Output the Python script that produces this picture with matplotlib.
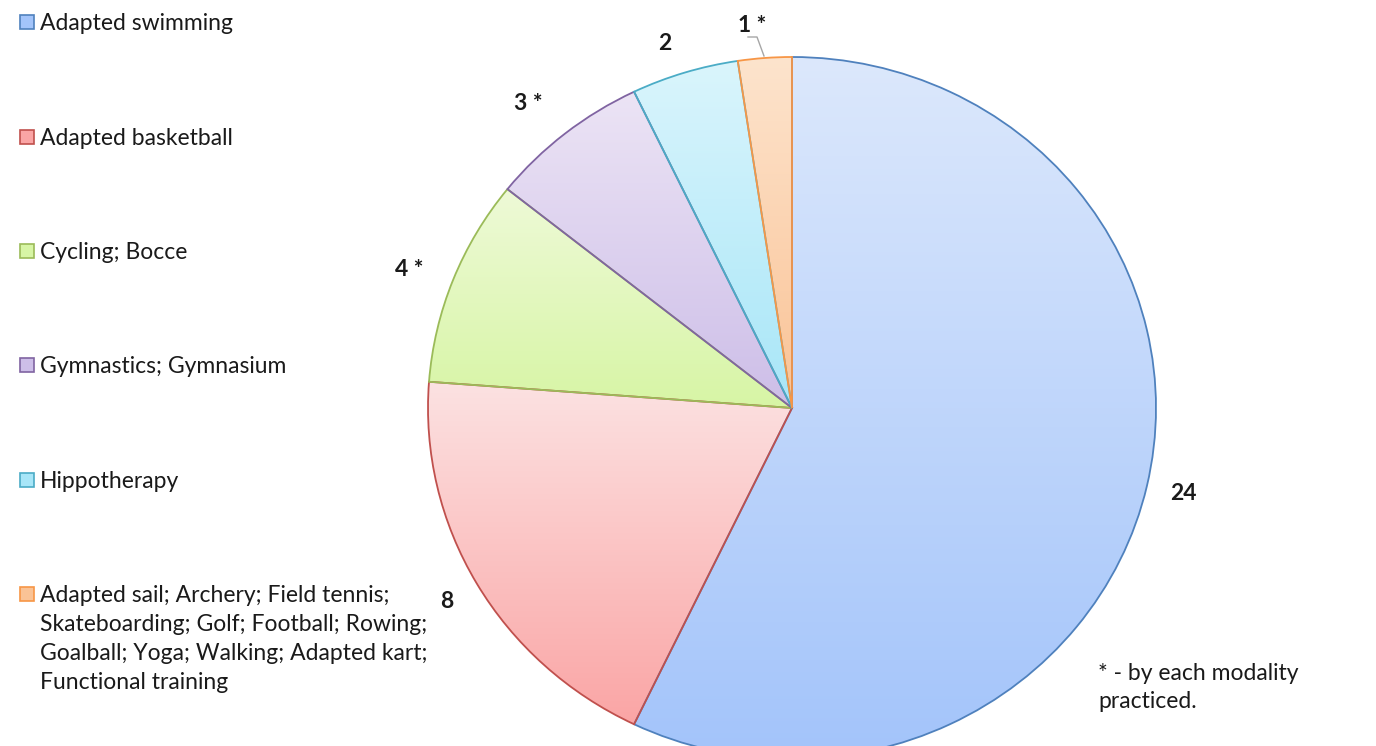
import numpy as np
import matplotlib.pyplot as plt
from matplotlib.patches import Rectangle
from matplotlib.lines import Line2D
from matplotlib.colors import LinearSegmentedColormap

plt.rcParams['font.family'] = ['Lato', 'DejaVu Sans']

categories = ['Adapted swimming', 'Adapted basketball', 'Cycling; Bocce',
              'Gymnastics; Gymnasium', 'Hippotherapy',
              'Adapted sail; Archery; Field tennis;\nSkateboarding; Golf; Football; Rowing;\n'
              'Goalball; Yoga; Walking; Adapted kart;\nFunctional training']
values = [24, 8, 4, 3, 2, 1]
value_labels = ['24', '8', '4 *', '3 *', '2', '1 *']

# gradient top / bottom and edge colour per slice
tops = ['#dce8fc', '#fce2e2', '#eefad7', '#ece4f5', '#daf5fc', '#fde4cd']
bottoms = ['#a3c4fa', '#faa5a5', '#d7f5a5', '#cdbee8', '#a8e6f8', '#fac396']
edges = ['#4f81bd', '#c0504d', '#9bbb59', '#8064a2', '#4bacc6', '#f79646']

W, H = 1376, 746
fig = plt.figure(figsize=(W / 100, H / 100), dpi=100)

# pie centre (792, 408) px, radii 364 x 351 px
cx, cy, rx, ry = 792, 408, 364, 351
ax = fig.add_axes([(cx - rx) / W, (H - cy - ry) / H, 2 * rx / W, 2 * ry / H])
wedges, _ = ax.pie(values, startangle=90, counterclock=False, radius=1,
                   wedgeprops=dict(linewidth=1.3))
grad = np.linspace(0, 1, 256).reshape(-1, 1)
for w, t, b, e in zip(wedges, tops, bottoms, edges):
    w.set_facecolor('none')
    w.set_edgecolor(e)
    w.set_zorder(3)
    bb = w.get_path().get_extents()
    cmap = LinearSegmentedColormap.from_list('g', [t, b])
    im = ax.imshow(grad, cmap=cmap, extent=(bb.x0, bb.x1, bb.y0, bb.y1),
                   origin='upper', aspect='auto', zorder=2)
    im.set_clip_path(w)
ax.set_aspect('auto')
ax.set_xlim(-1, 1)
ax.set_ylim(-1, 1)
ax.axis('off')


def fx(x):
    return x / W


def fy(y):
    return 1 - y / H


FS = 16.5

# value labels
label_pos = [(1183, 494), (447, 601), (409, 269), (528, 104), (665, 43), (752, 26)]
for txt, (x, y) in zip(value_labels, label_pos):
    fig.text(fx(x), fy(y), txt, ha='center', va='center', fontsize=FS,
             fontweight='bold', color='#1a1a1a')
fig.add_artist(Line2D([fx(748), fx(757), fx(764)], [fy(37), fy(37), fy(56)],
                      color='#a6a6a6', lw=1))

# legend
rows = [22, 137, 251, 365, 480, 594]
for cat, y, t, b, e in zip(categories, rows, tops, bottoms, edges):
    fig.add_artist(Rectangle((fx(20), fy(y + 7)), 14 / W, 14 / H,
                             facecolor=b, edgecolor=e, lw=1.2))
    fig.text(fx(40), fy(y - 9), cat, ha='left', va='top', fontsize=FS,
             color='#1a1a1a', linespacing=1.47)

fig.text(fx(1098), fy(663), '* - by each modality\npracticed.', ha='left', va='top',
         fontsize=FS, color='#1a1a1a', linespacing=1.43)

fig.savefig('out.png', dpi=100)
